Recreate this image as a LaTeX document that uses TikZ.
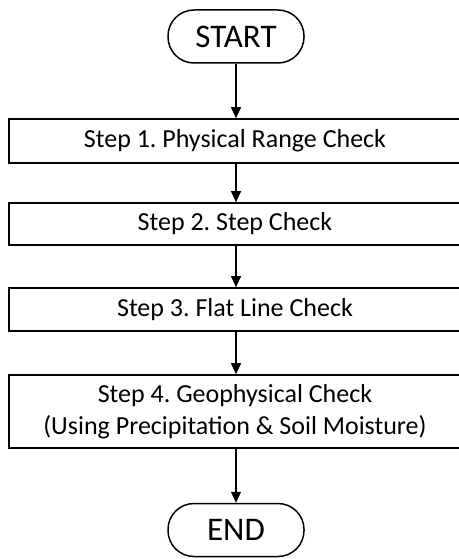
\documentclass[tikz,border=0pt]{standalone}
\usepackage{fontspec}
\setmainfont{Carlito}
\usetikzlibrary{arrows.meta}
\begin{document}
\frenchspacing
\begin{tikzpicture}[x=1pt,y=-1pt,
  term/.style={draw=black,line width=1.5pt,rounded corners=26pt,minimum width=136pt,minimum height=53pt,inner sep=0pt,font=\fontsize{33}{36}\selectfont},
  stepbox/.style={draw=black,line width=1.7pt,minimum width=452pt,inner sep=0pt,font=\fontsize{26}{32}\selectfont,align=center},
  conn/.style={line width=1.1pt,-{Triangle[length=11pt,width=10pt]}}]
\useasboundingbox (0,0) rectangle (458,559);
\node[term] (start) at (236,36.5) {START};
\node[stepbox,minimum height=44pt] (s1) at (235,141) {Step 1. Physical Range Check};
\node[stepbox,minimum height=42pt] (s2) at (235,224) {Step 2. Step Check};
\node[stepbox,minimum height=43pt] (s3) at (235,309.5) {Step 3. Flat Line Check};
\node[stepbox,minimum height=73pt] (s4) at (235,411.5) {Step 4. Geophysical Check\\(Using Precipitation \& Soil Moisture)};
\node[term] (end) at (236,530) {END};
\draw[conn] (start.south) -- (start.south |- s1.north);
\draw[conn] (start.south |- s1.south) -- (start.south |- s2.north);
\draw[conn] (start.south |- s2.south) -- (start.south |- s3.north);
\draw[conn] (start.south |- s3.south) -- (start.south |- s4.north);
\draw[conn] (start.south |- s4.south) -- (end.north);
\end{tikzpicture}
\end{document}
